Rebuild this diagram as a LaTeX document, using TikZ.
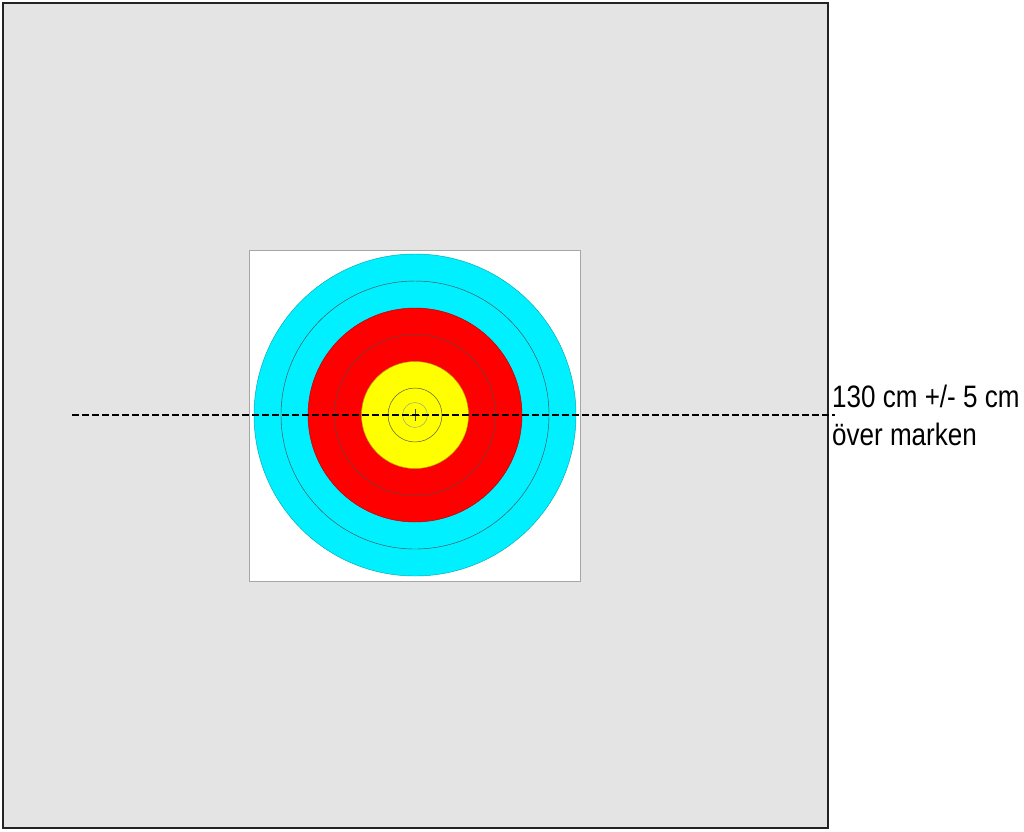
\documentclass[tikz,border=0pt]{standalone}
\usepackage{fontspec}
\setmainfont{Liberation Sans}
\usetikzlibrary{calc}
\definecolor{bggrey}{RGB}{228,228,228}
\definecolor{tcyan}{RGB}{0,240,255}
\definecolor{tred}{RGB}{255,0,0}
\definecolor{tyellow}{RGB}{255,255,0}
\definecolor{framegrey}{RGB}{35,35,35}
\begin{document}
\begin{tikzpicture}[x=1pt,y=-1pt,
  zone/.style={circle,inner sep=0pt,minimum size=#1,draw=black!70,line width=0.45pt},
  label/.style={font=\fontsize{31}{37}\selectfont,anchor=base west,inner sep=0pt,xscale=0.84}]
\useasboundingbox (0,0) rectangle (1024,831);
\fill[white] (0,0) rectangle (1024,831);
% backstop
\draw[fill=bggrey,draw=framegrey,line width=2.8pt] (3,3) rectangle (828,828);
% target face paper
\node[draw=black!35,fill=white,line width=0.8pt,minimum size=331pt,inner sep=0pt] (paper) at (415,416) {};
\coordinate (c) at (415,415);
\node[zone=322pt,fill=tcyan,draw=tcyan!70!black] (z1) at (c) {};
\node[zone=268pt,fill=tcyan] (z2) at (c) {};
\node[zone=214pt,fill=tred,draw=tred!70!black] (z3) at (c) {};
\node[zone=161pt,fill=tred] (z4) at (c) {};
\node[zone=107pt,fill=tyellow,draw=tyellow!70!black] (z5) at (c) {};
\node[zone=54pt,fill=tyellow] (z6) at (c) {};
\node[zone=25pt,fill=tyellow,draw=black!40] (z7) at (c) {};
\draw[black!70,line width=0.5pt] ($(c)+(-5,0)$) -- ($(c)+(5,0)$) ($(c)+(0,-6)$) -- ($(c)+(0,6)$);
% height line
\coordinate (lstart) at (72,415);
\coordinate (lend) at (835,415);
\draw[black,line width=1.4pt,dash pattern=on 7pt off 3pt] (lstart) -- (lend);
\node[label] (txt1) at (832,407) {130 cm +/- 5 cm};
\node[label] (txt2) at (832,445) {över marken};
\end{tikzpicture}
\end{document}
